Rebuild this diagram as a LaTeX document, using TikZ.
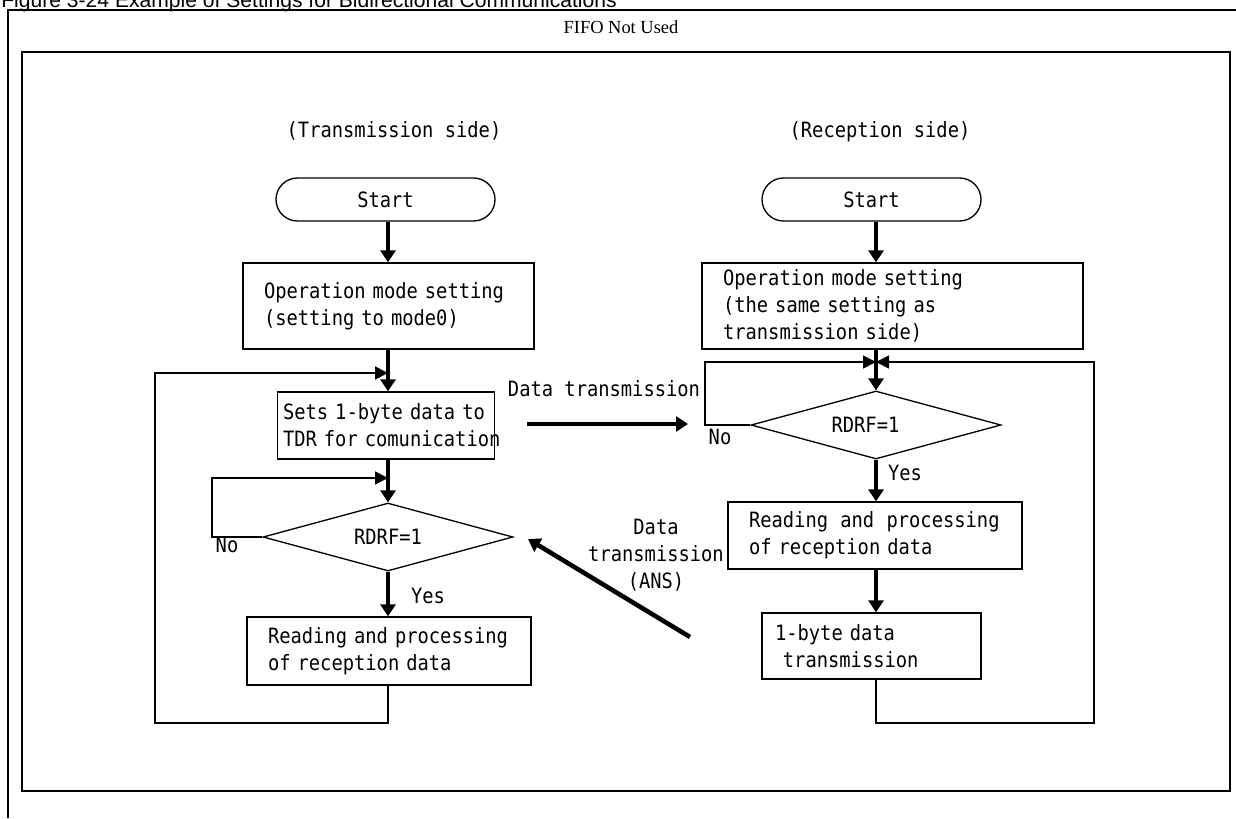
\documentclass[tikz,border=0pt]{standalone}
\usepackage{fontspec}
\setmainfont{Liberation Serif}
\newfontfamily\titlefont{Liberation Sans}
\newfontfamily\gothic[FakeStretch=0.89]{DejaVu Sans Mono}
\usetikzlibrary{arrows.meta,shapes.geometric,shapes.misc}

\begin{document}
\begin{tikzpicture}[x=0.2mm,y=-0.2mm,
  txt/.style={font=\gothic\fontsize{12}{15.3}\selectfont, inner sep=0pt},
  term/.style={txt, draw, line width=0.75pt, rounded rectangle, minimum width=43.8mm, minimum height=8.6mm},
  proc/.style={txt, draw, line width=0.75pt, align=left},
  dec/.style={txt, draw, line width=0.75pt, diamond, aspect=4, minimum width=50mm, minimum height=13.6mm},
  flow/.style={line width=2.6pt, -{Triangle[length=2.4mm,width=3mm]}},
  loop/.style={line width=1pt, -{Triangle[length=2.6mm,width=2.6mm]}},
  frame/.style={line width=1.2pt}]
\useasboundingbox (0,0) rectangle (1236,818);

% caption and frames
\node[font=\titlefont\fontsize{12}{14}\selectfont, anchor=base west, inner sep=0pt] (title) at (1,8)
  {Figure 3-24 Example of Settings for Bidirectional Communications};
\draw[frame] (8,818) -- (8,10) -- (1240,10);
\node[font=\fontsize{10.5}{12}\selectfont, inner sep=0pt] (fifo) at (621,27) {FIFO Not Used};
\draw[frame] (22,52) rectangle (1230,791);

\coordinate (colL) at (388,0);
\coordinate (colR) at (876,0);

% transmission side
\node[txt] (sideL) at (394,131) {(Transmission side)};
\node[term] (startL) at (385.5,199.5) {Start};
\node[proc, text width=49.8mm, inner xsep=4.2mm, minimum height=17.2mm] (boxL1) at (388.5,306)
  {Operation mode setting\\(setting to mode0)};
\node[proc, text width=41.2mm, inner xsep=1.1mm, minimum height=13.4mm] (boxL2) at (386,425.5)
  {\mbox{Sets 1-byte data to}\\\mbox{TDR for comunication}};
\node[dec] (decL) at (388,537) {RDRF=1};
\node[proc, text width=48.4mm, inner xsep=4.2mm, minimum height=13.6mm] (boxL3) at (389,651)
  {Reading and processing\\of reception data};
\node[txt] (noL) at (227,545) {No};
\node[txt] (yesL) at (428,596) {Yes};

\draw[flow] (startL.south -| colL) -- (boxL1.north -| colL);
\draw[flow] (boxL1.south -| colL) -- (boxL2.north -| colL);
\draw[flow] (boxL2.south -| colL) -- (decL.north);
\draw[flow] (decL.south) -- (boxL3.north -| colL);

\coordinate (mergeL) at (388,373);
\coordinate (bendL) at (155,723);
\coordinate (retryL) at (212,478);
\draw[loop] (boxL3.south -| colL) |- (bendL) |- (mergeL);
\draw[loop] (decL.west) -| (retryL) -- (retryL -| colL);

% reception side
\node[txt] (sideR) at (880,132) {(Reception side)};
\node[term] (startR) at (871.5,199.5) {Start};
\node[proc, text width=67.8mm, inner xsep=4.2mm, minimum height=17.2mm] (boxR1) at (892.5,306)
  {Operation mode setting\\(the same setting as\\transmission side)};
\node[dec] (decR) at (876,425) {RDRF=1\hspace*{12pt}};
\node[proc, text width=50.4mm, inner xsep=4.2mm, minimum height=13.4mm] (boxR2) at (875,535.5)
  {Reading\hspace{3pt} and\hspace{3pt} processing\\of reception data};
\node[proc, text width=38.6mm, inner xsep=2.6mm, minimum height=13.2mm] (boxR3) at (871.5,646)
  {1-byte data\\\mbox{}\hspace*{4.5pt}transmission};
\node[txt] (noR) at (720,437) {No};
\node[txt] (yesR) at (905,473) {Yes};

\draw[flow] (startR.south -| colR) -- (boxR1.north -| colR);
\draw[flow] (boxR1.south -| colR) -- (decR.north);
\draw[flow] (decR.south) -- (boxR2.north -| colR);
\draw[flow] (boxR2.south -| colR) -- (boxR3.north -| colR);

\coordinate (mergeR) at (876,362);
\coordinate (bendR) at (1094,723);
\coordinate (retryR) at (705,362);
\draw[loop] (boxR3.south -| colR) |- (bendR) |- (mergeR);
\draw[loop] (decR.west) -| (retryR) -- (mergeR);

% data between the two sides
\coordinate (txA) at (527,424);
\coordinate (txB) at (688,424);
\draw[flow] (txA) -- (txB);
\node[txt] (txLbl) at (604,389) {Data transmission};

\coordinate (ansA) at (690,637);
\coordinate (ansB) at (528,539);
\draw[flow] (ansA) -- (ansB);
\node[txt, align=center] (ansLbl) at (656,555)
  {\mbox{}\hfill Data\\transmission\\(ANS)};
\end{tikzpicture}
\end{document}
